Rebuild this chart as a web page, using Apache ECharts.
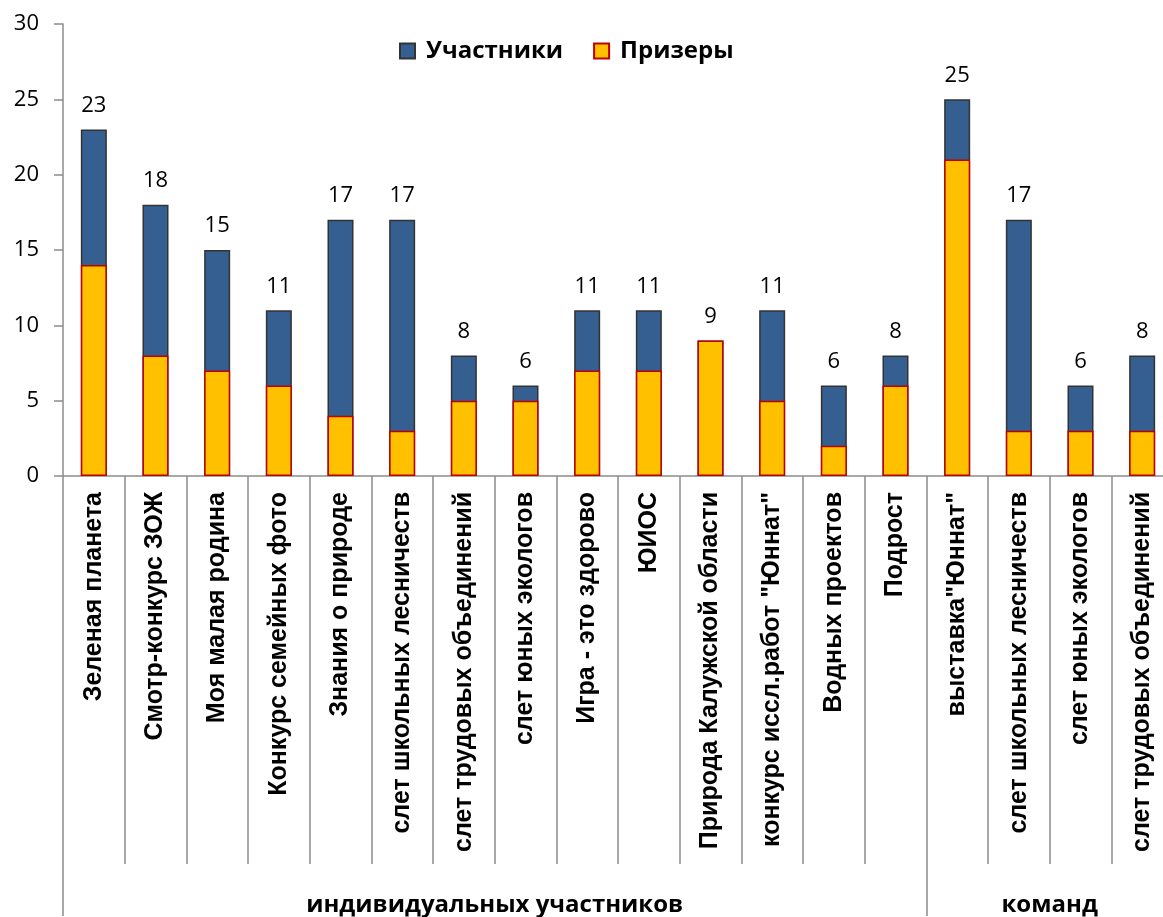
<!DOCTYPE html>
<html>
<head>
<meta charset="utf-8">
<script src="https://cdn.jsdelivr.net/npm/echarts@6/dist/echarts.min.js"></script>
<style>
  html, body { margin: 0; padding: 0; background: #fff; }
  #chart { width: 1163px; height: 917px; }
</style>
</head>
<body>
<div id="chart"></div>
<script>
  // Data
  var categories = ['Зеленая планета', 'Смотр-конкурс ЗОЖ', 'Моя малая родина', 'Конкурс семейных фото',
    'Знания о природе', 'слет школьных лесничеств', 'слет трудовых объединений', 'слет юных экологов',
    'Игра - это здорово', 'ЮИОС', 'Природа Калужской области', 'конкурс иссл.работ "Юннат"',
    'Водных проектов', 'Подрост', 'выставка"Юннат"', 'слет школьных лесничеств',
    'слет юных экологов', 'слет трудовых объединений'];
  var participants = [23, 18, 15, 11, 17, 17, 8, 6, 11, 11, 9, 11, 6, 8, 25, 17, 6, 8];
  var winners = [14, 8, 7, 6, 4, 3, 5, 5, 7, 7, 9, 5, 2, 6, 21, 3, 3, 3];
  var groupNames = ['индивидуальных участников', 'команд'];
  var groupBounds = [0, 14, 18];   // category index where each group starts / ends
  var groupCenters = [7, 16];
  var yTicks = [0, 5, 10, 15, 20, 25, 30];

  var gray = '#8c8c8c';

  var options = {
    animation: false,
    legend: {
      top: 34,
      left: 394,
      itemWidth: 15,
      itemHeight: 15,
      itemGap: 30,
      icon: 'rect',
      textStyle: {
        fontFamily: '"Open Sans"', fontWeight: 'bold', fontSize: 24, color: '#000',
        padding: [0, 0, 0, 6]
      },
      data: ['Участники', 'Призеры']
    },
    // plot runs slightly past the right edge, as in the original
    grid: { left: 63, width: 1110, top: 24, bottom: 441, containLabel: false, outerBoundsMode: 'none' },
    xAxis: [{
      type: 'category',
      data: categories,
      axisLine: { lineStyle: { color: gray, width: 1.5 } },
      axisTick: { show: true, interval: 0, length: 388, lineStyle: { color: gray, width: 1.5 } },
      axisLabel: {
        interval: 0,
        rotate: 90,
        margin: 16,
        fontFamily: '"Liberation Sans"',
        fontWeight: 'bold',
        fontSize: 25,
        color: '#000'
      }
    }, {
      type: 'value',
      position: 'bottom',
      offset: 388,
      min: groupBounds[0],
      max: groupBounds[groupBounds.length - 1],
      axisLine: { show: false },
      splitLine: { show: false },
      axisTick: { show: true, customValues: groupBounds, length: 52, lineStyle: { color: gray, width: 1.5 } },
      axisLabel: {
        customValues: groupCenters,
        formatter: function (v) { return groupNames[groupCenters.indexOf(v)] || ''; },
        margin: 29,
        fontFamily: '"Open Sans"',
        fontWeight: 'bold',
        fontSize: 24,
        color: '#000'
      }
    }],
    yAxis: {
      type: 'value',
      min: yTicks[0],
      max: yTicks[yTicks.length - 1],
      interval: 5,
      axisLine: { show: true, lineStyle: { color: gray, width: 1.5 } },
      axisTick: { show: true, length: 9, lineStyle: { color: gray, width: 1.5 } },
      splitLine: { show: false },
      axisLabel: { margin: 24, fontFamily: '"Open Sans"', fontSize: 22, color: '#000' }
    },
    series: [{
      name: 'Участники',
      type: 'bar',
      xAxisIndex: 0,
      data: participants,
      barWidth: 26,
      itemStyle: { color: '#355F91', borderColor: '#333', borderWidth: 1.5 },
      label: {
        show: true,
        position: 'top',
        distance: 13,
        fontFamily: '"Open Sans"',
        fontSize: 22,
        color: '#000'
      }
    }, {
      name: 'Призеры',
      type: 'bar',
      xAxisIndex: 0,
      data: winners,
      barWidth: 26,
      barGap: '-100%',
      itemStyle: { color: '#FFC000', borderColor: '#C00000', borderWidth: 1.5 }
    }]
  };

  var chart = echarts.init(document.getElementById('chart'));
  chart.setOption(options);
</script>
</body>
</html>
